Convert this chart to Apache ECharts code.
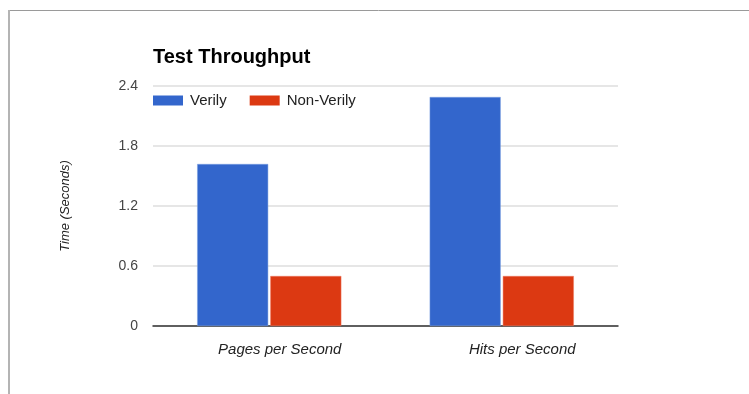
<!DOCTYPE html>
<html>
<head>
<meta charset="utf-8">
<script src="https://cdn.jsdelivr.net/npm/echarts@6/dist/echarts.min.js"></script>
<style>
html,body{margin:0;padding:0;background:#fff;}
#c{width:749px;height:394px;}
</style>
</head>
<body>
<div id="c"></div>
<script>
const categories = ['Pages per Second', 'Hits per Second'];
const verily = [1.62, 2.29];
const nonVerily = [0.50, 0.50];
const yTicks = [0, 0.6, 1.2, 1.8, 2.4];

const chart = echarts.init(document.getElementById('c'));
chart.setOption({
  animation: false,
  backgroundColor: '#fff',
  graphic: [
    { type: 'line', shape: { x1: 8, y1: 10.5, x2: 749, y2: 10.5 }, style: { stroke: '#9a9a9a', lineWidth: 1 } },
    { type: 'line', shape: { x1: 9, y1: 10, x2: 9, y2: 394 }, style: { stroke: '#b4b4b4', lineWidth: 2 } }
  ],
  title: {
    text: 'Test Throughput',
    left: 148, top: 42,
    textStyle: { fontFamily: 'Liberation Sans, Arial', fontWeight: 'bold', fontSize: 20, color: '#000' }
  },
  legend: {
    left: 148, top: 88,
    itemWidth: 30, itemHeight: 10, itemGap: 23,
    icon: 'rect',
    itemStyle: { borderWidth: 0 },
    textStyle: { fontFamily: 'Liberation Sans, Arial', fontSize: 15, color: '#222', padding: [0, 0, 0, 2] },
    data: ['Verily', 'Non-Verily']
  },
  grid: { left: 153, right: 131, top: 86, bottom: 68, containLabel: false },
  xAxis: {
    type: 'category',
    data: categories,
    axisTick: { show: false },
    axisLine: { lineStyle: { color: '#333', width: 1.5 } },
    axisLabel: {
      margin: 16, fontFamily: 'Liberation Sans, Arial', fontStyle: 'italic', fontSize: 15, color: '#222',
      formatter: (v, i) => (i === 0 ? '{a|' : '{b|') + v + '}',
      rich: {
        a: { fontFamily: 'Liberation Sans, Arial', fontStyle: 'italic', fontSize: 15, color: '#222', padding: [0, 0, 0, 21] },
        b: { fontFamily: 'Liberation Sans, Arial', fontStyle: 'italic', fontSize: 15, color: '#222', padding: [0, 0, 0, 41] }
      }
    }
  },
  yAxis: {
    type: 'value',
    min: 0, max: 2.4, interval: 0.6,
    name: 'Time (Seconds)',
    nameLocation: 'middle',
    nameGap: 81,
    nameRotate: 90,
    nameTextStyle: { fontFamily: 'Liberation Sans, Arial', fontStyle: 'italic', fontSize: 13, color: '#222' },
    axisLine: { show: false },
    axisTick: { show: false },
    splitLine: { lineStyle: { color: '#dedede', width: 1.5 } },
    axisLabel: {
      margin: 15, fontFamily: 'Liberation Sans, Arial', fontSize: 14, color: '#444',
      formatter: v => yTicks.includes(+v.toFixed(1)) ? String(+v.toFixed(1)) : ''
    }
  },
  series: [
    { name: 'Verily', type: 'bar', data: verily, barWidth: 71, barGap: '3%',
      itemStyle: { color: '#3366cc', borderColor: '#7a9ee0', borderWidth: 0.5 } },
    { name: 'Non-Verily', type: 'bar', data: nonVerily, barWidth: 71,
      itemStyle: { color: '#dc3912', borderColor: '#ee7a60', borderWidth: 0.5 } }
  ]
});
</script>
</body>
</html>
